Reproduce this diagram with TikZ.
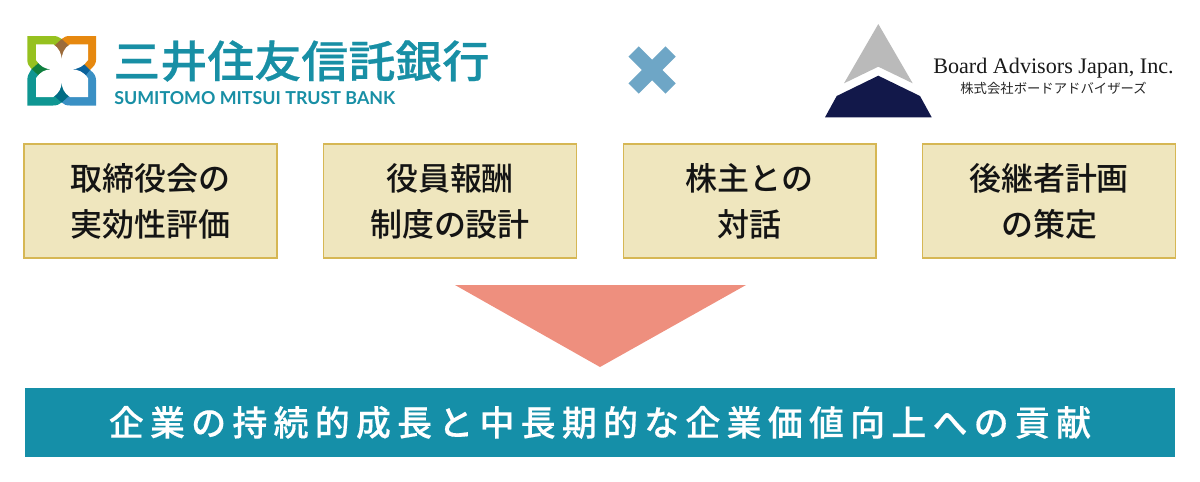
\documentclass[tikz,border=0pt]{standalone}
\usepackage{fontspec}
\usepackage{xcolor}
\setmainfont{Liberation Serif}
\newfontfamily\jpfont{Noto Sans CJK JP}
\newfontfamily\jpmedium{Noto Sans CJK JP Medium}
\newfontfamily\latinlogo{Lato}
\definecolor{trustblue}{RGB}{24,143,165}
\definecolor{boxfill}{RGB}{239,230,190}
\definecolor{boxline}{RGB}{214,183,84}
\definecolor{barblue}{RGB}{21,143,168}
\definecolor{crossblue}{RGB}{110,166,198}
\definecolor{arrowred}{RGB}{238,143,126}
\definecolor{bapnavy}{RGB}{18,24,74}
\definecolor{bapgray}{RGB}{186,186,186}
\tikzset{
    theme/.style={draw=boxline,fill=boxfill,line width=0.6pt,inner sep=0pt,
        minimum width=5.06cm,minimum height=2.28cm,align=center,text=black!92,
        font=\jpmedium\fontsize{18.2}{26.2}\selectfont},
}

\begin{document}
\begin{tikzpicture}[x=0.02cm,y=-0.02cm]
    \useasboundingbox (0,0) rectangle (1200,481);

    % Logo quarters
    \fill[color={rgb,255:red,150;green,193;blue,31}] (27.3,36) -- (53,36) .. controls (57,36) and (59,37) .. (61.7,39) -- (61.7,70) -- (31.7,69) .. controls (29,66) and (27.3,64) .. (27.3,60) -- cycle;
    \fill[color={rgb,255:red,230;green,136;blue,15}] (96,36) -- (70,36) .. controls (66,36) and (64,37) .. (61.7,39) -- (61.7,70) -- (90,70) .. controls (94,66) and (96,64) .. (96,60) -- cycle;
    \fill[color={rgb,255:red,15;green,150;blue,146}] (27.3,105.5) -- (53,105.5) .. controls (57,105.5) and (59,104.5) .. (61.7,102.5) -- (61.7,70) -- (31.7,69) .. controls (29,73) and (27.3,76) .. (27.3,80) -- cycle;
    \fill[color={rgb,255:red,58;green,144;blue,196}] (96,105.5) -- (70,105.5) .. controls (66,105.5) and (64,104.5) .. (61.7,102.5) -- (61.7,70) -- (90,70) .. controls (94,73) and (96,76) .. (96,80) -- cycle;
    % Logo overlaps
    \fill[color={rgb,255:red,156;green,107;blue,58}] (61.7,39) -- (69,45.7) -- (61.7,70) -- (54.3,45.7) -- cycle;
    \fill[color={rgb,255:red,15;green,127;blue,63}] (31.7,69) -- (40,61.7) -- (61.7,70) -- (40,76.7) -- cycle;
    \fill[color={rgb,255:red,10;green,98;blue,155}] (90,70) -- (82.3,62.3) -- (61.7,70) -- (83.3,78.3) -- cycle;
    \fill[color={rgb,255:red,0;green,108;blue,133}] (61.7,102.5) -- (53.3,95) -- (61.7,70) -- (70,95) -- cycle;
    % Logo flower
    \fill[white] (36,44.3) -- (53.3,44.3) .. controls (59,48) and (61.7,54) .. (61.7,60)
        .. controls (61.7,54) and (64,48) .. (70,44.3) -- (88,44.3) -- (88,60)
        .. controls (84,66) and (78,69.3) .. (71.7,69.3) .. controls (78,69.3) and (84,72) .. (88,78.3)
        -- (88,97) -- (70,97) .. controls (64,93) and (61.7,88) .. (61.7,81.7)
        .. controls (61.7,88) and (59,93) .. (53.3,97) -- (36,97) -- (36,78.3)
        .. controls (40,72) and (45,69.3) .. (51.7,69.3) .. controls (45,69.3) and (40,66) .. (36,60) -- cycle;

    % Left name
    \node[anchor=west,inner sep=0pt,text=trustblue,font=\jpmedium\fontsize{25}{30}\selectfont\addfontfeatures{FakeStretch=1.07,FakeBold=0.6}] (trustname) at (113,61) {三井住友信託銀行};
    \node[anchor=west,inner sep=0pt,text=trustblue,font=\latinlogo\bfseries\fontsize{10.15}{12}\selectfont] (trustlatin) at (114,98) {SUMITOMO MITSUI TRUST BANK};

    % Cross
    \draw[crossblue,line width=0.29cm] (633.5,51.5) -- (670.5,88.5);
    \draw[crossblue,line width=0.29cm] (670.5,51.5) -- (633.5,88.5);

    % Right logo
    \fill[bapgray] (878.3,24) -- (912.7,83.3) -- (878.3,66.7) -- (844,83.3) -- cycle;
    \fill[bapnavy] (878.3,75.7) -- (920,96) -- (931.7,117.3) -- (825,117.3) -- (836.7,96) -- cycle;
    \node[inner sep=0pt,text=black!90,font=\fontsize{12.6}{14}\selectfont] (bapname) at (1053.5,68) {Board Advisors Japan, Inc.};
    \node[inner sep=0pt,text=black!85,font=\jpfont\fontsize{7.6}{9}\selectfont] (bapjapan) at (1053.5,88) {株式会社ボードアドバイザーズ};

    % Themes
    \node[theme] (evaluation) at (150.5,201) {取締役会の\\実効性評価};
    \node[theme] (remuneration) at (450,201) {役員報酬\\制度の設計};
    \node[theme] (dialogue) at (749.5,201) {株主との\\対話};
    \node[theme] (succession) at (1049,201) {後継者計画\\の策定};

    % Arrow
    \fill[arrowred] (455,285) -- (746,285) -- (600,367) -- cycle;

    % Result bar
    \node[fill=barblue,inner sep=0pt,minimum width=23cm,minimum height=1.38cm,text=white,
        font=\jpmedium\fontsize{19.9}{24}\selectfont\addfontfeatures{LetterSpace=17.8,FakeBold=0.4}] (result) at (600,422.5) {企業の持続的成長と中長期的な企業価値向上への貢献};
\end{tikzpicture}
\end{document}
